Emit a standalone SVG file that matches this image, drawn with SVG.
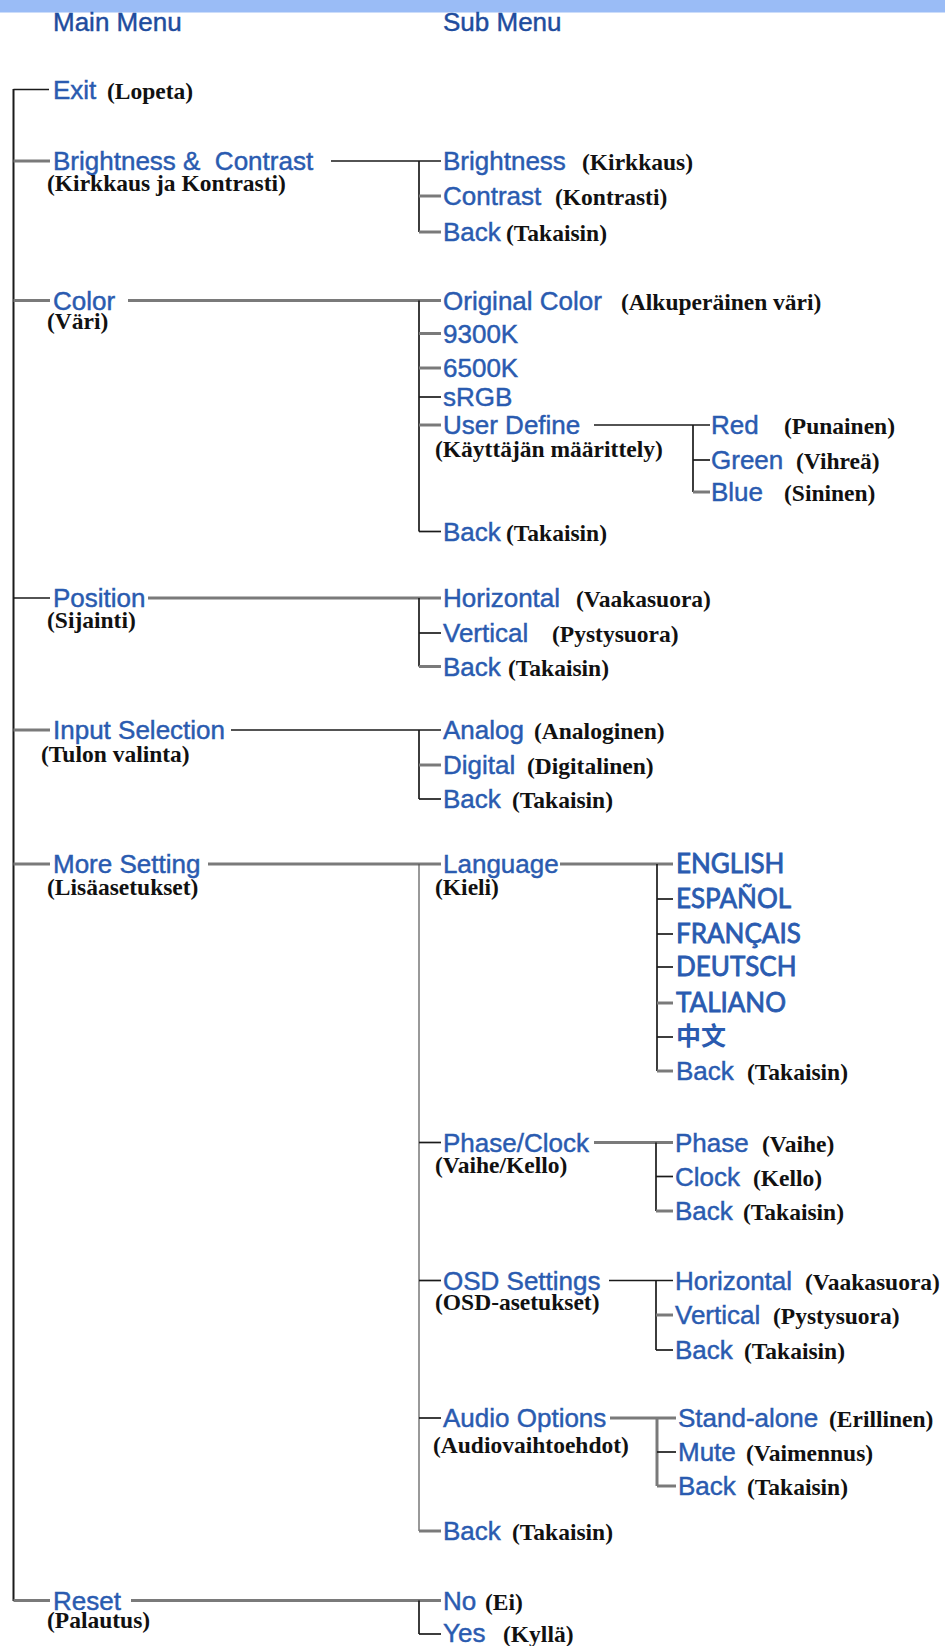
<svg xmlns="http://www.w3.org/2000/svg" width="945" height="1646" viewBox="0 0 945 1646">
  <style>
    .hd { font-family: "Liberation Sans", Arial, sans-serif; font-size: 26px; fill: #1f4d9e; stroke: #1f4d9e; stroke-width: 0.45; }
    .it { font-family: "Liberation Sans", Arial, sans-serif; font-size: 26px; fill: #2a5bb0; stroke: #2a5bb0; stroke-width: 0.45; }
    .lg { font-family: Lato, "Liberation Sans", sans-serif; font-weight: 400; font-size: 26px; fill: #2a5bb0; stroke: #2a5bb0; stroke-width: 0.8; }
    .cj { font-family: "Noto Sans CJK SC", sans-serif; font-weight: 700; font-size: 25px; fill: #2a5bb0; }
    .fi { font-family: "Liberation Serif", "Times New Roman", serif; font-weight: bold; font-size: 23.5px; fill: #111; }
    .k { stroke: #1a1a1a; stroke-width: 1.7; fill: none; }
    .g { stroke: #7a7a7a; stroke-width: 3; fill: none; }
    .t { stroke: #555; stroke-width: 1.2; fill: none; }
  </style>

  <rect x="0" y="0" width="945" height="12.5" fill="#9abcf6"/>

  <g id="headers">
    <text class="hd" x="53" y="31">Main Menu</text>
    <text class="hd" x="443" y="31">Sub Menu</text>
  </g>

  <!-- tree connectors -->
  <g id="connectors">
    <!-- main trunk -->
    <line class="k" x1="13.5" y1="89" x2="13.5" y2="1601" style="stroke-width:2"/>
    <line class="k" x1="13.5" y1="89.5" x2="49" y2="89.5"/>
    <line class="g" x1="13.5" y1="161" x2="50" y2="161"/>
    <line class="g" x1="13.5" y1="300.5" x2="50" y2="300.5"/>
    <line class="k" x1="13.5" y1="598" x2="50" y2="598"/>
    <line class="g" x1="13.5" y1="730" x2="50" y2="730"/>
    <line class="g" x1="13.5" y1="864" x2="50" y2="864"/>
    <line class="g" x1="13.5" y1="1600.5" x2="50" y2="1600.5"/>

    <!-- Brightness & Contrast -->
    <line class="k" x1="331" y1="161" x2="441" y2="161"/>
    <line class="k" x1="419" y1="161" x2="419" y2="232"/>
    <line class="g" x1="419" y1="196" x2="441" y2="196"/>
    <line class="g" x1="419" y1="232" x2="441" y2="232"/>

    <!-- Color -->
    <line class="g" x1="128" y1="300.5" x2="441" y2="300.5"/>
    <line class="k" x1="419" y1="300.5" x2="419" y2="531.5"/>
    <line class="g" x1="419" y1="333.5" x2="441" y2="333.5"/>
    <line class="g" x1="419" y1="368" x2="441" y2="368"/>
    <line class="k" x1="419" y1="397" x2="441" y2="397"/>
    <line class="g" x1="419" y1="425" x2="441" y2="425"/>
    <line class="k" x1="419" y1="531.5" x2="441" y2="531.5"/>
    <!-- User Define -->
    <line class="k" x1="594" y1="425" x2="710" y2="425"/>
    <line class="k" x1="693" y1="425" x2="693" y2="492"/>
    <line class="k" x1="693" y1="460" x2="710" y2="460"/>
    <line class="g" x1="693" y1="492" x2="710" y2="492"/>

    <!-- Position -->
    <line class="g" x1="148" y1="598" x2="441" y2="598"/>
    <line class="k" x1="419" y1="598" x2="419" y2="666.5"/>
    <line class="k" x1="419" y1="633" x2="441" y2="633"/>
    <line class="g" x1="419" y1="666.5" x2="441" y2="666.5"/>

    <!-- Input Selection -->
    <line class="k" x1="231" y1="730" x2="441" y2="730"/>
    <line class="k" x1="419" y1="730" x2="419" y2="799"/>
    <line class="g" x1="419" y1="765" x2="441" y2="765"/>
    <line class="k" x1="419" y1="799" x2="441" y2="799"/>

    <!-- More Setting -->
    <line class="g" x1="208" y1="864" x2="441" y2="864"/>
    <line class="t" x1="419" y1="864" x2="419" y2="1531"/>
    <line class="k" x1="419" y1="1142.5" x2="441" y2="1142.5"/>
    <line class="k" x1="419" y1="1280.5" x2="441" y2="1280.5"/>
    <line class="k" x1="419" y1="1418" x2="441" y2="1418"/>
    <line class="g" x1="419" y1="1531" x2="441" y2="1531"/>
    <!-- Language -->
    <line class="g" x1="560" y1="864" x2="673" y2="864"/>
    <line class="k" x1="657" y1="864" x2="657" y2="1071"/>
    <line class="k" x1="657" y1="899" x2="673" y2="899"/>
    <line class="k" x1="657" y1="934" x2="673" y2="934"/>
    <line class="k" x1="657" y1="967" x2="673" y2="967"/>
    <line class="g" x1="657" y1="1003" x2="673" y2="1003"/>
    <line class="k" x1="657" y1="1037" x2="673" y2="1037"/>
    <line class="g" x1="657" y1="1071" x2="673" y2="1071"/>
    <!-- Phase/Clock -->
    <line class="g" x1="594" y1="1142.5" x2="673" y2="1142.5"/>
    <line class="k" x1="656" y1="1142.5" x2="656" y2="1211"/>
    <line class="k" x1="656" y1="1176.5" x2="673" y2="1176.5"/>
    <line class="g" x1="656" y1="1211" x2="673" y2="1211"/>
    <!-- OSD Settings -->
    <line class="k" x1="609" y1="1280.5" x2="673" y2="1280.5"/>
    <line class="k" x1="656" y1="1280.5" x2="656" y2="1350"/>
    <line class="g" x1="656" y1="1315" x2="673" y2="1315"/>
    <line class="k" x1="656" y1="1350" x2="673" y2="1350"/>
    <!-- Audio Options -->
    <line class="g" x1="610" y1="1418" x2="676" y2="1418"/>
    <line class="g" x1="657" y1="1418" x2="657" y2="1486"/>
    <line class="k" x1="657" y1="1452" x2="676" y2="1452"/>
    <line class="g" x1="657" y1="1486" x2="676" y2="1486"/>

    <!-- Reset -->
    <line class="g" x1="131" y1="1600.5" x2="441" y2="1600.5"/>
    <line class="k" x1="419" y1="1600.5" x2="419" y2="1634"/>
    <line class="k" x1="419" y1="1634" x2="441" y2="1634"/>
  </g>

  <!-- main menu entries -->
  <g id="exit">
    <text class="it" x="53" y="98.5">Exit</text>
    <text class="fi" x="107" y="98.5">(Lopeta)</text>
  </g>
  <g id="brightness-contrast">
    <text class="it" x="53" y="170" xml:space="preserve">Brightness &amp;  Contrast</text>
    <text class="fi" x="47" y="191">(Kirkkaus ja Kontrasti)</text>
  </g>
  <g id="color">
    <text class="it" x="53" y="309.5">Color</text>
    <text class="fi" x="47" y="328.5">(Väri)</text>
  </g>
  <g id="position">
    <text class="it" x="53" y="607">Position</text>
    <text class="fi" x="47" y="627.5">(Sijainti)</text>
  </g>
  <g id="input-selection">
    <text class="it" x="53" y="739">Input Selection</text>
    <text class="fi" x="41" y="761.5">(Tulon valinta)</text>
  </g>
  <g id="more-setting">
    <text class="it" x="53" y="873">More Setting</text>
    <text class="fi" x="47" y="894.5">(Lisäasetukset)</text>
  </g>
  <g id="reset">
    <text class="it" x="53" y="1609.5">Reset</text>
    <text class="fi" x="47" y="1628">(Palautus)</text>
  </g>

  <!-- Brightness & Contrast submenu -->
  <g id="bc-brightness">
    <text class="it" x="443" y="170">Brightness</text>
    <text class="fi" x="582" y="170">(Kirkkaus)</text>
  </g>
  <g id="bc-contrast">
    <text class="it" x="443" y="205">Contrast</text>
    <text class="fi" x="555" y="205">(Kontrasti)</text>
  </g>
  <g id="bc-back">
    <text class="it" x="443" y="241">Back</text>
    <text class="fi" x="506" y="241">(Takaisin)</text>
  </g>

  <!-- Color submenu -->
  <g id="color-original">
    <text class="it" x="443" y="309.5">Original Color</text>
    <text class="fi" x="621" y="309.5">(Alkuperäinen väri)</text>
  </g>
  <g id="color-9300k"><text class="it" x="443" y="342.5">9300K</text></g>
  <g id="color-6500k"><text class="it" x="443" y="377">6500K</text></g>
  <g id="color-srgb"><text class="it" x="443" y="406">sRGB</text></g>
  <g id="color-user-define">
    <text class="it" x="443" y="434">User Define</text>
    <text class="fi" x="435" y="456.5">(Käyttäjän määrittely)</text>
  </g>
  <g id="ud-red">
    <text class="it" x="711" y="434">Red</text>
    <text class="fi" x="784" y="434">(Punainen)</text>
  </g>
  <g id="ud-green">
    <text class="it" x="711" y="469">Green</text>
    <text class="fi" x="796" y="469">(Vihreä)</text>
  </g>
  <g id="ud-blue">
    <text class="it" x="711" y="501">Blue</text>
    <text class="fi" x="784" y="501">(Sininen)</text>
  </g>
  <g id="color-back">
    <text class="it" x="443" y="540.5">Back</text>
    <text class="fi" x="506" y="540.5">(Takaisin)</text>
  </g>

  <!-- Position submenu -->
  <g id="pos-horizontal">
    <text class="it" x="443" y="607">Horizontal</text>
    <text class="fi" x="576" y="607">(Vaakasuora)</text>
  </g>
  <g id="pos-vertical">
    <text class="it" x="443" y="642">Vertical</text>
    <text class="fi" x="552" y="642">(Pystysuora)</text>
  </g>
  <g id="pos-back">
    <text class="it" x="443" y="675.5">Back</text>
    <text class="fi" x="508" y="675.5">(Takaisin)</text>
  </g>

  <!-- Input Selection submenu -->
  <g id="in-analog">
    <text class="it" x="443" y="739">Analog</text>
    <text class="fi" x="534" y="739">(Analoginen)</text>
  </g>
  <g id="in-digital">
    <text class="it" x="443" y="774">Digital</text>
    <text class="fi" x="527" y="774">(Digitalinen)</text>
  </g>
  <g id="in-back">
    <text class="it" x="443" y="808">Back</text>
    <text class="fi" x="512" y="808">(Takaisin)</text>
  </g>

  <!-- More Setting submenu -->
  <g id="ms-language">
    <text class="it" x="443" y="873">Language</text>
    <text class="fi" x="435" y="894.5">(Kieli)</text>
  </g>
  <g id="lang-english"><text class="lg" x="676" y="873">ENGLISH</text></g>
  <g id="lang-espanol"><text class="lg" x="676" y="908">ESPAÑOL</text></g>
  <g id="lang-francais"><text class="lg" x="676" y="943">FRANÇAIS</text></g>
  <g id="lang-deutsch"><text class="lg" x="676" y="976">DEUTSCH</text></g>
  <g id="lang-taliano"><text class="lg" x="676" y="1012">TALIANO</text></g>
  <g id="lang-chinese"><text class="cj" x="676" y="1045">中文</text></g>
  <g id="lang-back">
    <text class="it" x="676" y="1080">Back</text>
    <text class="fi" x="747" y="1080">(Takaisin)</text>
  </g>

  <g id="ms-phase-clock">
    <text class="it" x="443" y="1151.5">Phase/Clock</text>
    <text class="fi" x="435" y="1172.5">(Vaihe/Kello)</text>
  </g>
  <g id="pc-phase">
    <text class="it" x="675" y="1151.5">Phase</text>
    <text class="fi" x="762" y="1151.5">(Vaihe)</text>
  </g>
  <g id="pc-clock">
    <text class="it" x="675" y="1185.5">Clock</text>
    <text class="fi" x="753" y="1185.5">(Kello)</text>
  </g>
  <g id="pc-back">
    <text class="it" x="675" y="1220">Back</text>
    <text class="fi" x="743" y="1220">(Takaisin)</text>
  </g>

  <g id="ms-osd">
    <text class="it" x="443" y="1289.5">OSD Settings</text>
    <text class="fi" x="435" y="1309.5">(OSD-asetukset)</text>
  </g>
  <g id="osd-horizontal">
    <text class="it" x="675" y="1289.5">Horizontal</text>
    <text class="fi" x="805" y="1289.5">(Vaakasuora)</text>
  </g>
  <g id="osd-vertical">
    <text class="it" x="675" y="1324">Vertical</text>
    <text class="fi" x="773" y="1324">(Pystysuora)</text>
  </g>
  <g id="osd-back">
    <text class="it" x="675" y="1359">Back</text>
    <text class="fi" x="744" y="1359">(Takaisin)</text>
  </g>

  <g id="ms-audio">
    <text class="it" x="443" y="1427">Audio Options</text>
    <text class="fi" x="433" y="1453">(Audiovaihtoehdot)</text>
  </g>
  <g id="au-standalone">
    <text class="it" x="678" y="1427">Stand-alone</text>
    <text class="fi" x="829" y="1427">(Erillinen)</text>
  </g>
  <g id="au-mute">
    <text class="it" x="678" y="1461">Mute</text>
    <text class="fi" x="746" y="1461">(Vaimennus)</text>
  </g>
  <g id="au-back">
    <text class="it" x="678" y="1495">Back</text>
    <text class="fi" x="747" y="1495">(Takaisin)</text>
  </g>

  <g id="ms-back">
    <text class="it" x="443" y="1540">Back</text>
    <text class="fi" x="512" y="1540">(Takaisin)</text>
  </g>

  <!-- Reset submenu -->
  <g id="reset-no">
    <text class="it" x="443" y="1609.5">No</text>
    <text class="fi" x="485" y="1609.5">(Ei)</text>
  </g>
  <g id="reset-yes">
    <text class="it" x="443" y="1642">Yes</text>
    <text class="fi" x="503" y="1642">(Kyllä)</text>
  </g>
</svg>
